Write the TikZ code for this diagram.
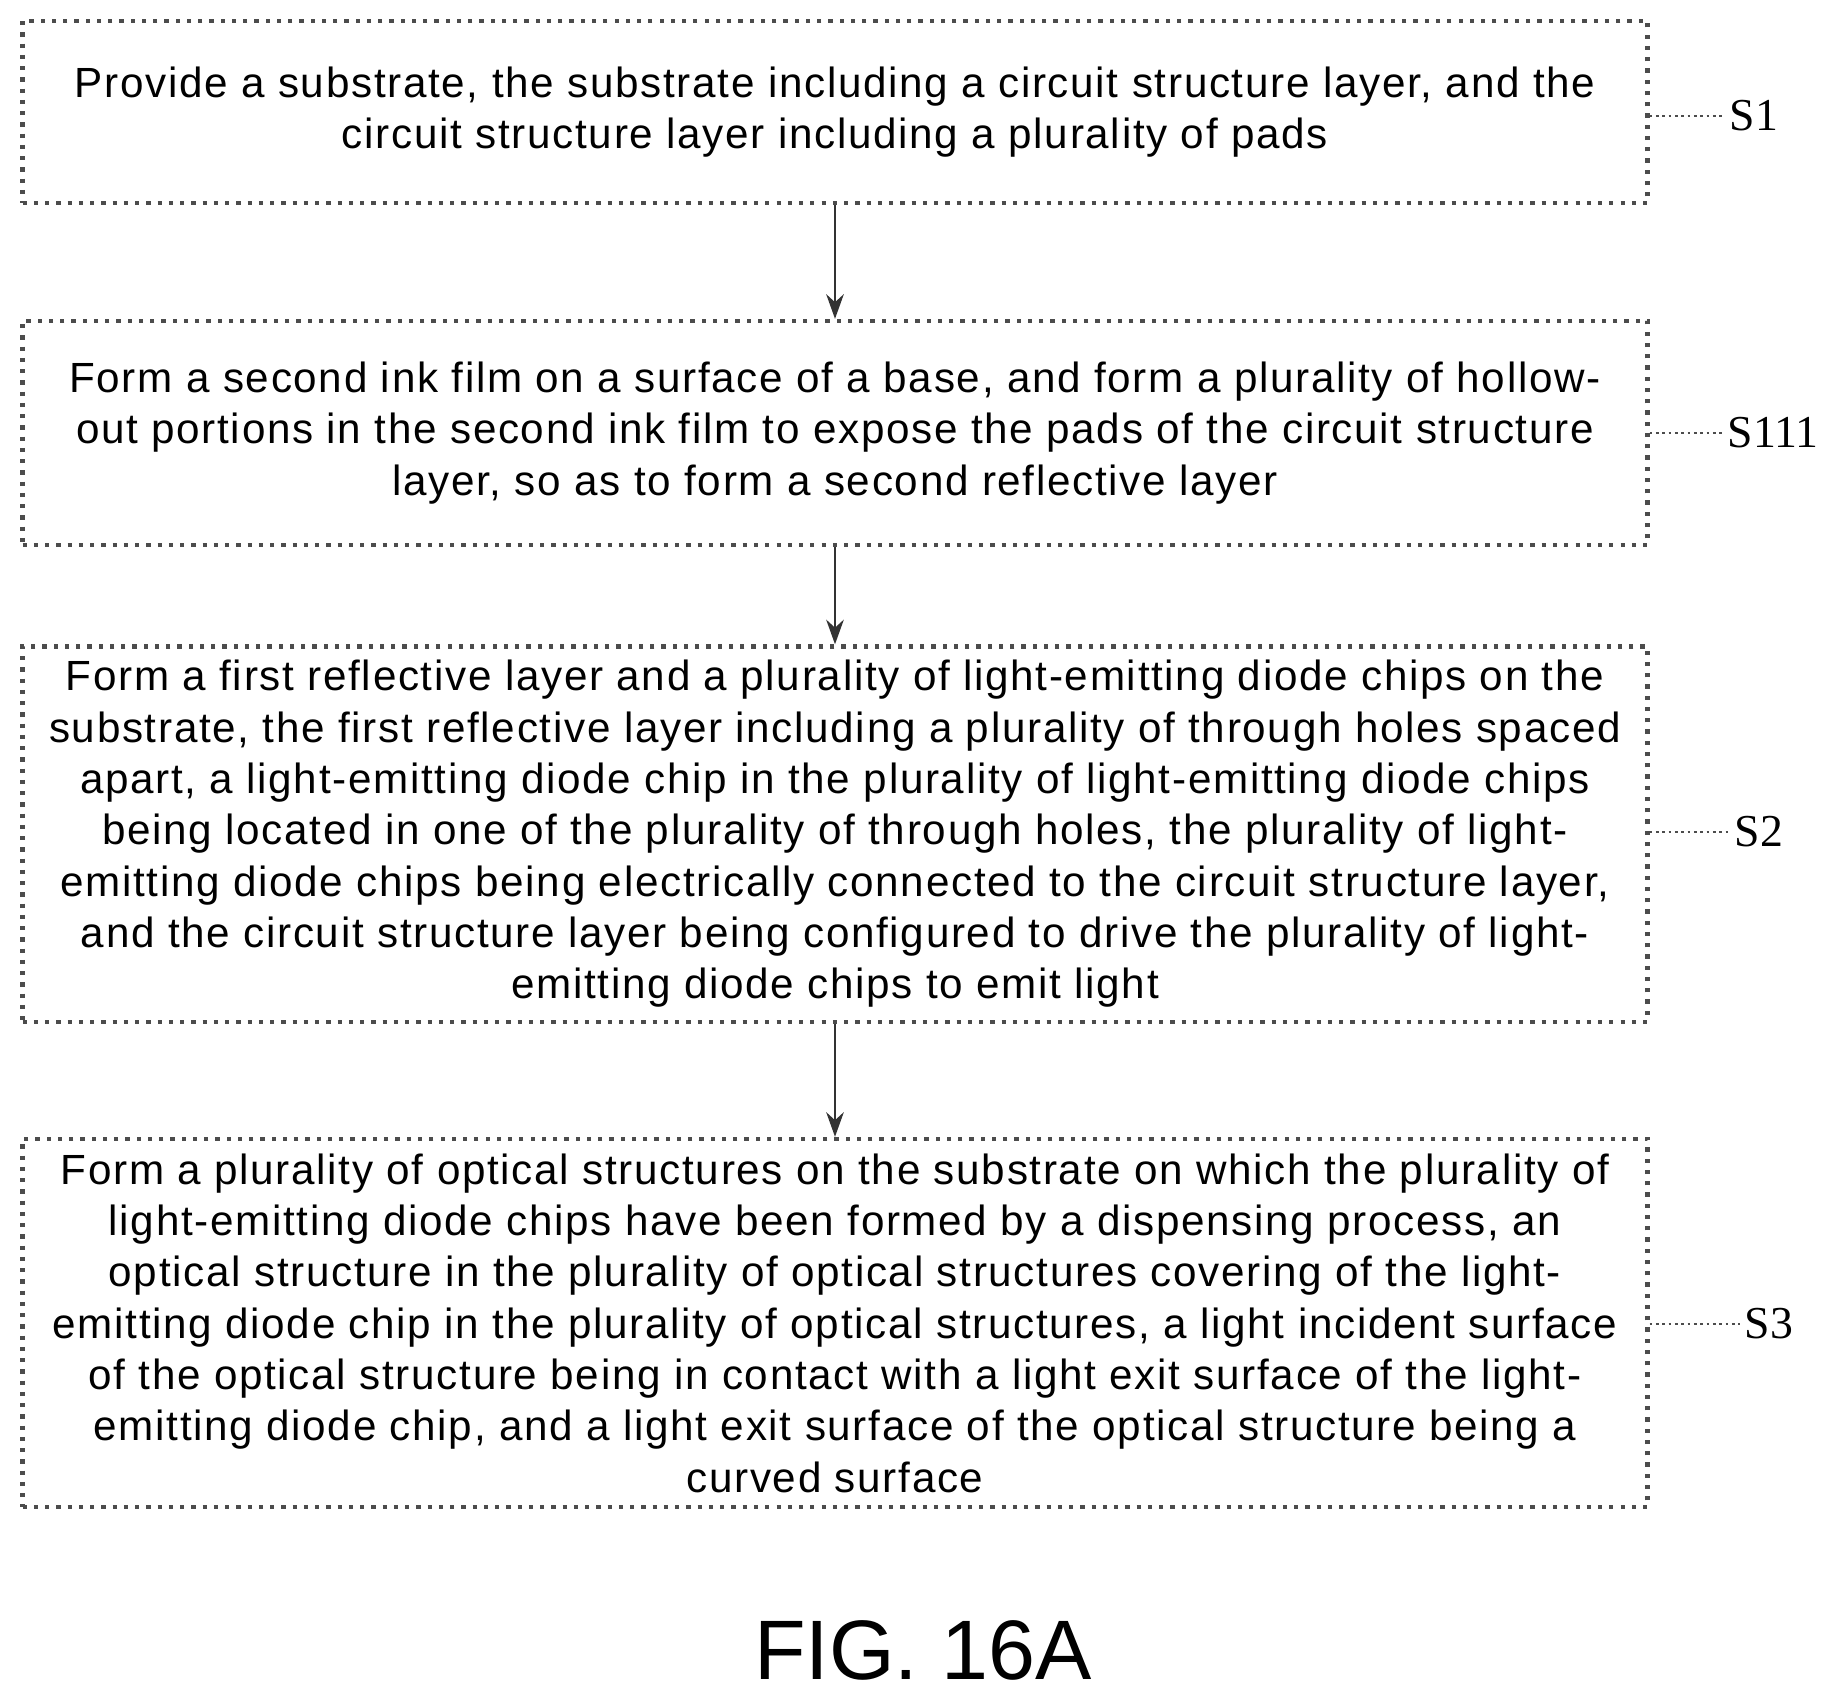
\documentclass[tikz,border=0pt]{standalone}
\usepackage{fontspec}
\setmainfont{Liberation Sans}
\newfontfamily\labelfont{Liberation Serif}
\usetikzlibrary{arrows.meta}

\tikzset{
	stage/.style = {draw = black!70, line width = 1.2pt, dotted, inner sep = 0pt, align = center,
		minimum width = 16.24cm, font = \fontsize{12}{14.6}\selectfont\addfontfeatures{LetterSpace=4}},
	flow/.style = {draw = black!80, line width = 0.7pt, -{Stealth[length=7pt,width=5pt]}},
	lead/.style = {draw = black!70, line width = 0.8pt, densely dotted},
	tag/.style = {anchor = west, inner sep = 1pt, font = \labelfont\fontsize{13}{13}\selectfont}
}

\begin{document}
\begin{tikzpicture}[x = 0.01cm, y = -0.01cm]
	\useasboundingbox (0,0) rectangle (1840,1699);
	% steps
	\node[stage, minimum height = 1.82cm] (s1) at (835,112) {Provide a substrate, the substrate including a circuit structure layer, and the\\circuit structure layer including a plurality of pads};
	\node[stage, minimum height = 2.24cm] (s111) at (835,433) {Form a second ink film on a surface of a base, and form a plurality of hollow-\\out portions in the second ink film to expose the pads of the circuit structure\\layer, so as to form a second reflective layer};
	\node[stage, minimum height = 3.75cm] (s2) at (835,834) {Form a first reflective layer and a plurality of light-emitting diode chips on the\\substrate, the first reflective layer including a plurality of through holes spaced\\apart, a light-emitting diode chip in the plurality of light-emitting diode chips\\being located in one of the plurality of through holes, the plurality of light-\\emitting diode chips being electrically connected to the circuit structure layer,\\and the circuit structure layer being configured to drive the plurality of light-\\emitting diode chips to emit light};
	\node[stage, minimum height = 3.68cm] (s3) at (835,1323) {Form a plurality of optical structures on the substrate on which the plurality of\\light-emitting diode chips have been formed by a dispensing process, an\\optical structure in the plurality of optical structures covering of the light-\\emitting diode chip in the plurality of optical structures, a light incident surface\\of the optical structure being in contact with a light exit surface of the light-\\emitting diode chip, and a light exit surface of the optical structure being a\\curved surface};
	% arrows
	\draw[flow] (s1) -- (s111);
	\draw[flow] (s111) -- (s2);
	\draw[flow] (s2) -- (s3);
	% labels
	\coordinate (e1) at (1725,116);
	\coordinate (e111) at (1723,433);
	\coordinate (e2) at (1730,832);
	\coordinate (e3) at (1740,1324);
	\draw[lead] (s1.east |- e1) -- (e1) node[tag] (t1) {S1};
	\draw[lead] (s111.east |- e111) -- (e111) node[tag] (t111) {S111};
	\draw[lead] (s2.east |- e2) -- (e2) node[tag] (t2) {S2};
	\draw[lead] (s3.east |- e3) -- (e3) node[tag] (t3) {S3};
	\node[font = \fontsize{24}{24}\selectfont] (fig) at (923,1650) {FIG. 16A};
\end{tikzpicture}
\end{document}
